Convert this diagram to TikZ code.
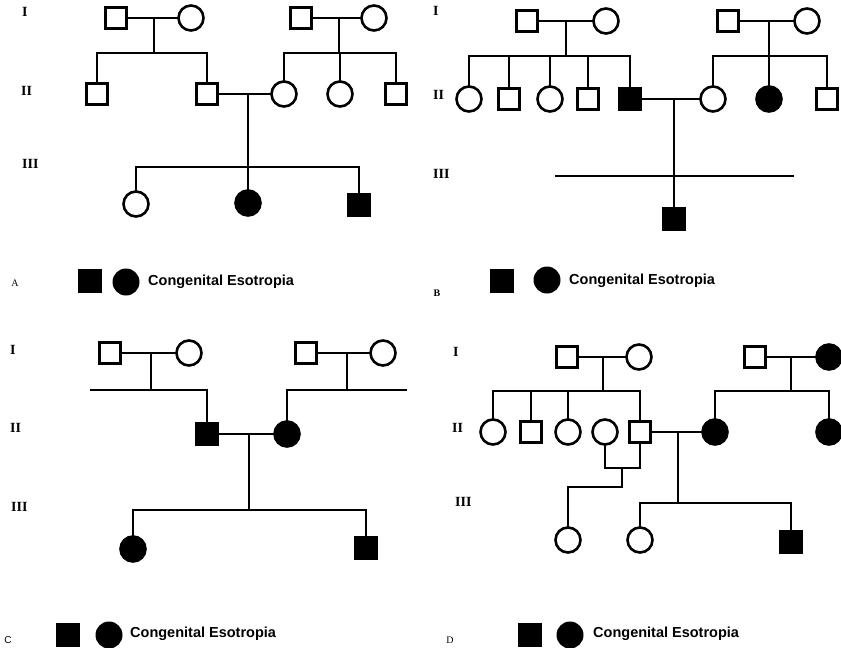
\documentclass[tikz,border=0pt]{standalone}
\usepackage{fontspec}
\setmainfont{Liberation Serif}
\newfontfamily\lsans{Liberation Sans}
\begin{document}
\begin{tikzpicture}[x=1pt,y=-1pt,
  lk/.style={draw,line width=2.6pt,line cap=rect},
  sq/.style={draw,rectangle,minimum size=21pt,inner sep=0pt,line width=2.6pt},
  ci/.style={draw,circle,minimum size=25pt,inner sep=0pt,line width=2.6pt},
  aff/.style={fill=black},
  gen/.style={anchor=west,font=\fontsize{14}{14}\selectfont\bfseries,inner sep=0pt},
  plabel/.style={font=\fontsize{10}{10}\selectfont,inner sep=0pt},
  legsq/.style={fill=black,rectangle,minimum size=24pt,inner sep=0pt},
  legci/.style={fill=black,circle,minimum size=27pt,inner sep=0pt},
  legtext/.style={anchor=west,font=\lsans\bfseries\fontsize{14.5}{14.5}\selectfont,inner sep=0pt}]
\useasboundingbox (0,0) rectangle (841,648);

% ================= Panel A =================
\node[gen] (gAI) at (22,12) {I};
\node[gen] (gAII) at (21,91) {II};
\node[gen] (gAIII) at (22,164) {III};
\node[sq] (a1) at (116,18) {};
\node[ci] (a2) at (191,18) {};
\node[sq] (a3) at (97,94) {};
\node[sq] (a4) at (207,94) {};
\node[sq] (a5) at (301,18) {};
\node[ci] (a6) at (374,18) {};
\node[ci] (a7) at (284,94) {};
\node[ci] (a8) at (340,94) {};
\node[sq] (a9) at (396,94) {};
\node[ci] (a10) at (136,204) {};
\node[ci,aff] (a11) at (248,203) {};
\node[sq,aff] (a12) at (359,205) {};
\coordinate (ma1) at (154,18);
\coordinate (sa1) at (154,53);
\coordinate (ma2) at (339,18);
\coordinate (sa2) at (339,53);
\coordinate (ma3) at (248,94);
\coordinate (sa3) at (248,167);
\draw[lk] (a1) -- (a2);
\draw[lk] (ma1) -- (sa1);
\draw[lk] (a3.north) |- (sa1) -| (a4.north);
\draw[lk] (a5) -- (a6);
\draw[lk] (ma2) -- (sa2);
\draw[lk] (a7.north) |- (sa2) -| (a9.north);
\draw[lk] (a8.north) -- (a8 |- sa2);
\draw[lk] (a4) -- (a7);
\draw[lk] (ma3) -- (sa3);
\draw[lk] (a10.north) |- (sa3) -| (a12.north);
\draw[lk] (a11.north) -- (a11 |- sa3);
\node[plabel] (lA) at (15,283) {A};
\node[legsq] (lsA) at (90,281) {};
\node[legci] (lcA) at (126,282) {};
\node[legtext] (ltA) at (148,282) {Congenital Esotropia};

% ================= Panel B =================
\node[gen] (gBI) at (433,11) {I};
\node[gen] (gBII) at (433,95) {II};
\node[gen] (gBIII) at (433,174) {III};
\node[sq] (b1) at (527,21) {};
\node[ci] (b2) at (606,21) {};
\node[ci] (b3) at (469,99) {};
\node[sq] (b4) at (509,99) {};
\node[ci] (b5) at (550,99) {};
\node[sq] (b6) at (588,99) {};
\node[sq,aff] (b7) at (630,99) {};
\node[sq] (b8) at (728,21) {};
\node[ci] (b9) at (807,21) {};
\node[ci] (b10) at (713,99) {};
\node[ci,aff] (b11) at (769,99) {};
\node[sq] (b12) at (827,99) {};
\node[sq,aff] (b13) at (674,219) {};
\coordinate (mb1) at (566,21);
\coordinate (sb1) at (566,56);
\coordinate (mb2) at (769,21);
\coordinate (sb2) at (769,56);
\coordinate (mb3) at (674,99);
\coordinate (bL) at (556,176);
\coordinate (bR) at (793,176);
\draw[lk] (b1) -- (b2);
\draw[lk] (mb1) -- (sb1);
\draw[lk] (b3.north) |- (sb1) -| (b7.north);
\draw[lk] (b4.north) -- (b4 |- sb1);
\draw[lk] (b5.north) -- (b5 |- sb1);
\draw[lk] (b6.north) -- (b6 |- sb1);
\draw[lk] (b8) -- (b9);
\draw[lk] (mb2) -- (sb2);
\draw[lk] (b10.north) |- (sb2) -| (b12.north);
\draw[lk] (b11.north) -- (b11 |- sb2);
\draw[lk] (b7) -- (b10);
\draw[lk] (mb3) -- (b13.north);
\draw[lk] (bL) -- (bR);
\node[plabel,font=\fontsize{10}{10}\selectfont\bfseries] (lB) at (437,293) {B};
\node[legsq] (lsB) at (502,281) {};
\node[legci] (lcB) at (547,280) {};
\node[legtext] (ltB) at (569,281) {Congenital Esotropia};

% ================= Panel C =================
\node[gen] (gCI) at (10,350) {I};
\node[gen] (gCII) at (10,428) {II};
\node[gen] (gCIII) at (11,507) {III};
\node[sq] (c1) at (110,353) {};
\node[ci] (c2) at (189,353) {};
\node[sq,aff] (c3) at (207,434) {};
\node[sq] (c4) at (306,353) {};
\node[ci] (c5) at (383,353) {};
\node[ci,aff] (c6) at (287,434) {};
\node[ci,aff] (c7) at (133,549) {};
\node[sq,aff] (c8) at (366,548) {};
\coordinate (mc1) at (151,353);
\coordinate (sc1) at (151,390);
\coordinate (cL) at (91,390);
\coordinate (mc2) at (347,353);
\coordinate (sc2) at (347,390);
\coordinate (cR) at (406,390);
\coordinate (mc3) at (249,434);
\coordinate (sc3) at (249,510);
\draw[lk] (c1) -- (c2);
\draw[lk] (mc1) -- (sc1);
\draw[lk] (cL) -| (c3.north);
\draw[lk] (c4) -- (c5);
\draw[lk] (mc2) -- (sc2);
\draw[lk] (cR) -| (c6.north);
\draw[lk] (c3) -- (c6);
\draw[lk] (mc3) -- (sc3);
\draw[lk] (c7.north) |- (sc3) -| (c8.north);
\node[plabel,font=\lsans\fontsize{10}{10}\selectfont] (lC) at (8,640) {C};
\node[legsq] (lsC) at (68,635) {};
\node[legci] (lcC) at (109,635) {};
\node[legtext] (ltC) at (130,634) {Congenital Esotropia};

% ================= Panel D =================
\node[gen] (gDI) at (453,352) {I};
\node[gen] (gDII) at (452,428) {II};
\node[gen] (gDIII) at (455,502) {III};
\node[sq] (d1) at (567,357) {};
\node[ci] (d2) at (639,357) {};
\node[ci] (d3) at (493,432) {};
\node[sq] (d4) at (531,432) {};
\node[ci] (d5) at (568,432) {};
\node[ci] (d6) at (605,432) {};
\node[sq] (d7) at (640,432) {};
\node[ci] (d8) at (568,540) {};
\node[ci,aff] (d9) at (715,432) {};
\node[ci] (d10) at (640,540) {};
\node[sq,aff] (d11) at (791,542) {};
\node[sq] (d12) at (755,357) {};
\node[ci,aff] (d13) at (829,357) {};
\node[ci,aff] (d14) at (829,432) {};
\coordinate (md1) at (603,357);
\coordinate (sd1) at (603,391);
\coordinate (ud) at (622,468);
\coordinate (sd0) at (622,487);
\coordinate (md2) at (678,432);
\coordinate (sd2) at (678,503);
\coordinate (md3) at (791,357);
\coordinate (sd3) at (791,391);
\draw[lk] (d1) -- (d2);
\draw[lk] (md1) -- (sd1);
\draw[lk] (d3.north) |- (sd1) -| (d7.north);
\draw[lk] (d4.north) -- (d4 |- sd1);
\draw[lk] (d5.north) -- (d5 |- sd1);
\draw[lk] (d6.south) |- (ud) -| (d7.south);
\draw[lk] (ud) -- (sd0) -| (d8.north);
\draw[lk] (d7) -- (d9);
\draw[lk] (md2) -- (sd2);
\draw[lk] (d10.north) |- (sd2) -| (d11.north);
\draw[lk] (d12) -- (d13);
\draw[lk] (md3) -- (sd3);
\draw[lk] (d9.north) |- (sd3) -| (d14.north);
\node[plabel] (lD) at (450,640) {D};
\node[legsq] (lsD) at (530,635) {};
\node[legci] (lcD) at (570,635) {};
\node[legtext] (ltD) at (593,634) {Congenital Esotropia};
\end{tikzpicture}
\end{document}
